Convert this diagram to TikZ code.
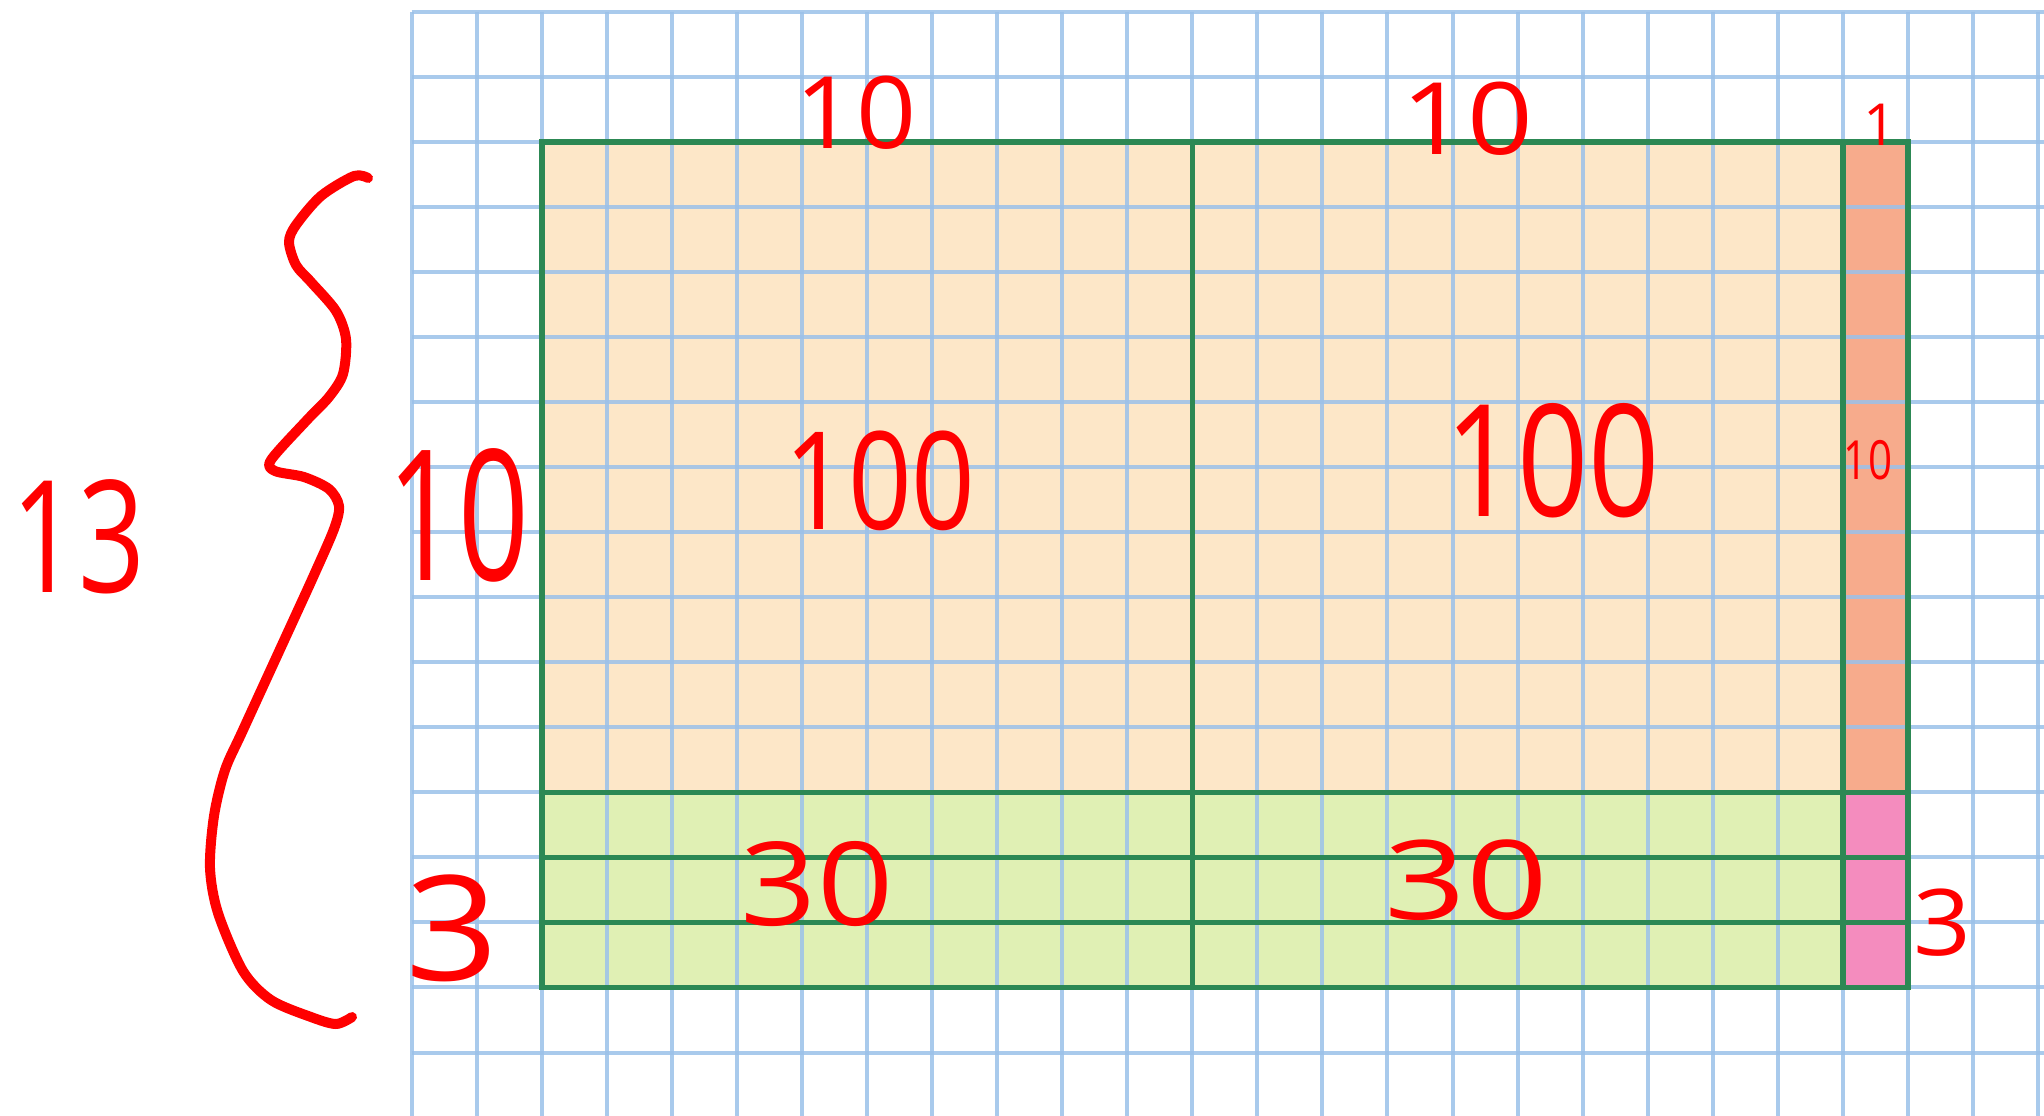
\documentclass[tikz,border=0pt]{standalone}
\usepackage{fontspec}
\newfontfamily\handfont{Open Sans}
\definecolor{gridblue}{RGB}{155,193,233}
\definecolor{boxgreen}{RGB}{44,136,84}
\definecolor{fillorange}{RGB}{253,231,200}
\definecolor{fillred}{RGB}{247,171,140}
\definecolor{fillgreen}{RGB}{224,240,180}
\definecolor{fillpink}{RGB}{244,140,190}
\definecolor{inkred}{RGB}{255,0,0}
\tikzset{
  gridline/.style={draw=gridblue, line width=2pt, opacity=0.85},
  boxline/.style={draw=boxgreen, line width=2.8pt},
  ink/.style={inkred, inner sep=0pt, font=\handfont},
  inkstroke/.style={draw=inkred, line width=5pt, line cap=round, line join=round}
}
\newcommand{\hsz}[1]{\fontsize{#1}{#1}\selectfont}
\begin{document}
\begin{tikzpicture}[x=0.5pt, y=-0.5pt]
\useasboundingbox (0,0) rectangle (2044,1115);
\fill[white] (0,0) rectangle (2044,1115);
\begin{scope}[shift={(205.85pt,-5.85pt)}, x=32.525pt, y=-32.525pt]
  % fills
  \fill[fillorange] (2,2) rectangle (22,12);
  \fill[fillred] (22,2) rectangle (23,12);
  \fill[fillgreen] (2,12) rectangle (22,15);
  \fill[fillpink] (22,12) rectangle (23,15);
  % grid
  \foreach \i in {0,...,25} \draw[gridline] (\i,0) -- (\i,17.1);
  \foreach \j in {0,...,16} \draw[gridline] (0,\j) -- (25.2,\j);
  % green boxes
  \draw[boxline] (2,2) rectangle (23,15);
  \draw[boxline] (12,2) -- (12,15);
  \draw[boxline] (22,2) -- (22,15);
  \foreach \j in {12,13,14} \draw[boxline] (2,\j) -- (23,\j);
\end{scope}
% labels
\node[ink, xscale=1.05] (topa) at (856,113) {\hsz{50}10};
\node[ink, xscale=1.15] (topb) at (1467,119) {\hsz{50}10};
\node[ink] (topc) at (1880,125) {\hsz{29}1};
\node[ink, xscale=0.82] (hunda) at (880,481) {\hsz{68}100};
\node[ink, xscale=0.8] (hundb) at (1553,461) {\hsz{78}100};
\node[ink, xscale=0.78] (tenr) at (1868,460) {\hsz{27}10};
\node[ink, xscale=0.68] (tenl) at (458,515) {\hsz{91}10};
\node[ink, xscale=1.12] (threel) at (452,928) {\hsz{73}3};
\node[ink, xscale=1.15] (thira) at (817,884) {\hsz{58}30};
\node[ink, xscale=1.3] (thirb) at (1466,880) {\hsz{55}30};
\node[ink, xscale=1.1] (threer) at (1942,923) {\hsz{46}3};
\node[ink, xscale=0.75] (thirteen) at (78,537) {\hsz{78}13};
% brace
\draw[inkstroke] plot[smooth, tension=0.5] coordinates {
 (368,178) (354,176) (321,196) (296,225) (289,242) (296,265) (311,282)
 (336,311) (346,339) (343,374) (329,397) (307,420) (271,460) (275,471)
 (304,477) (329,489) (339,506) (334,529) (314,575) (293,621) (243,730)
 (225,770) (214,816) (210,868) (218,913) (243,971) (271,1000) (311,1017)
 (336,1024) (352,1017)};
\end{tikzpicture}
\end{document}
